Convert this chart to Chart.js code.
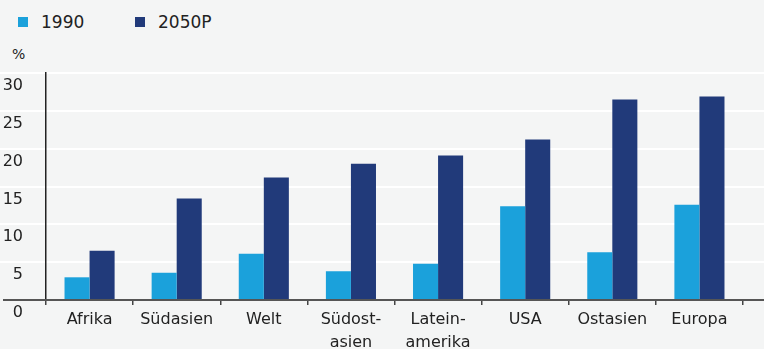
<!DOCTYPE html>
<html>
<head>
<meta charset="utf-8">
<script src="https://cdn.jsdelivr.net/npm/chart.js@4.4.1/dist/chart.umd.min.js"></script>
<style>
  html, body { margin: 0; padding: 0; background: #f4f5f5; }
  .wrap { position: relative; width: 764px; height: 349px; font-family: 'DejaVu Sans', sans-serif; color: #222; }
  canvas { position: absolute; left: 0; top: 0; }
  .legend-item { position: absolute; top: 11px; font-size: 17px; line-height: 22px; white-space: nowrap; }
  .legend-box { position: absolute; left: 0; top: 6px; width: 10px; height: 10px; }
  .legend-text { position: absolute; left: 23px; top: 0; }
  .unit { position: absolute; left: 12px; top: 45px; font-size: 14px; line-height: 18px; }
</style>
</head>
<body>
<div class="wrap">
  <div id="legend"></div>
  <div class="unit">%</div>
  <canvas id="chart" width="764" height="349"></canvas>
</div>
<script>
// Chart data
const categories = ['Afrika', 'Südasien', 'Welt', ['Südost-', 'asien'], ['Latein-', 'amerika'], 'USA', 'Ostasien', 'Europa'];
const values1990 = [3.0, 3.6, 6.1, 3.8, 4.8, 12.4, 6.3, 12.6];
const values2050 = [6.5, 13.4, 16.2, 18.0, 19.1, 21.2, 26.5, 26.9];
const seriesNames = ['1990', '2050P'];
const seriesColors = ['#1ba1db', '#213a7a'];
const yMin = 0, yMax = 30, yStep = 5;

// Legend (HTML)
const legendLeft = [18, 135];
document.getElementById('legend').innerHTML = seriesNames.map((name, i) => `
  <div class="legend-item" style="left:${legendLeft[i]}px">
    <span class="legend-box" style="background:${seriesColors[i]}"></span>
    <span class="legend-text">${name}</span>
  </div>
`).join('');

// Full-width white gridlines + dark baseline
const gridPlugin = {
  id: 'fullGrid',
  beforeDraw(chart) {
    const { ctx, scales: { y } } = chart;
    ctx.save();
    ctx.strokeStyle = '#ffffff';
    ctx.lineWidth = 2;
    y.ticks.forEach(t => {
      if (t.value === 0) return;
      const py = Math.round(y.getPixelForValue(t.value));
      ctx.beginPath();
      ctx.moveTo(0, py);
      ctx.lineTo(chart.width, py);
      ctx.stroke();
    });
    ctx.restore();
  },
  afterDatasetsDraw(chart) {
    const { ctx, scales: { y } } = chart;
    const py = Math.round(y.getPixelForValue(0));
    ctx.save();
    ctx.strokeStyle = '#555555';
    ctx.lineWidth = 2;
    ctx.beginPath();
    ctx.moveTo(3, py);
    ctx.lineTo(chart.width, py);
    ctx.stroke();
    ctx.restore();
  }
};

new Chart(document.getElementById('chart').getContext('2d'), {
  type: 'bar',
  data: {
    labels: categories,
    datasets: [
      { label: seriesNames[0], data: values1990, backgroundColor: seriesColors[0] },
      { label: seriesNames[1], data: values2050, backgroundColor: seriesColors[1] }
    ]
  },
  options: {
    responsive: false,
    animation: false,
    layout: { padding: { top: 73, right: 21, left: 0, bottom: 0 } },
    datasets: { bar: { categoryPercentage: 0.575, barPercentage: 1 } },
    plugins: {
      legend: { display: false },
      tooltip: { enabled: false }
    },
    scales: {
      x: {
        grid: { display: true, drawOnChartArea: false, drawTicks: true, tickLength: 5, color: '#444', lineWidth: 1.5, offset: true },
        border: { display: false },
        ticks: { color: '#222', font: { family: 'DejaVu Sans', size: 16, lineHeight: 1.45 }, padding: 3, maxRotation: 0, autoSkip: false },
        afterFit(scale) { scale.height = 49; }
      },
      y: {
        min: yMin,
        max: yMax,
        ticks: { stepSize: yStep, color: '#222', font: { family: 'DejaVu Sans', size: 16 }, padding: 15, labelOffset: 13 },
        grid: { display: false },
        border: { display: true, color: '#222', width: 1.5 },
        afterFit(scale) { scale.width = 46; }
      }
    }
  },
  plugins: [gridPlugin]
});
</script>
</body>
</html>
